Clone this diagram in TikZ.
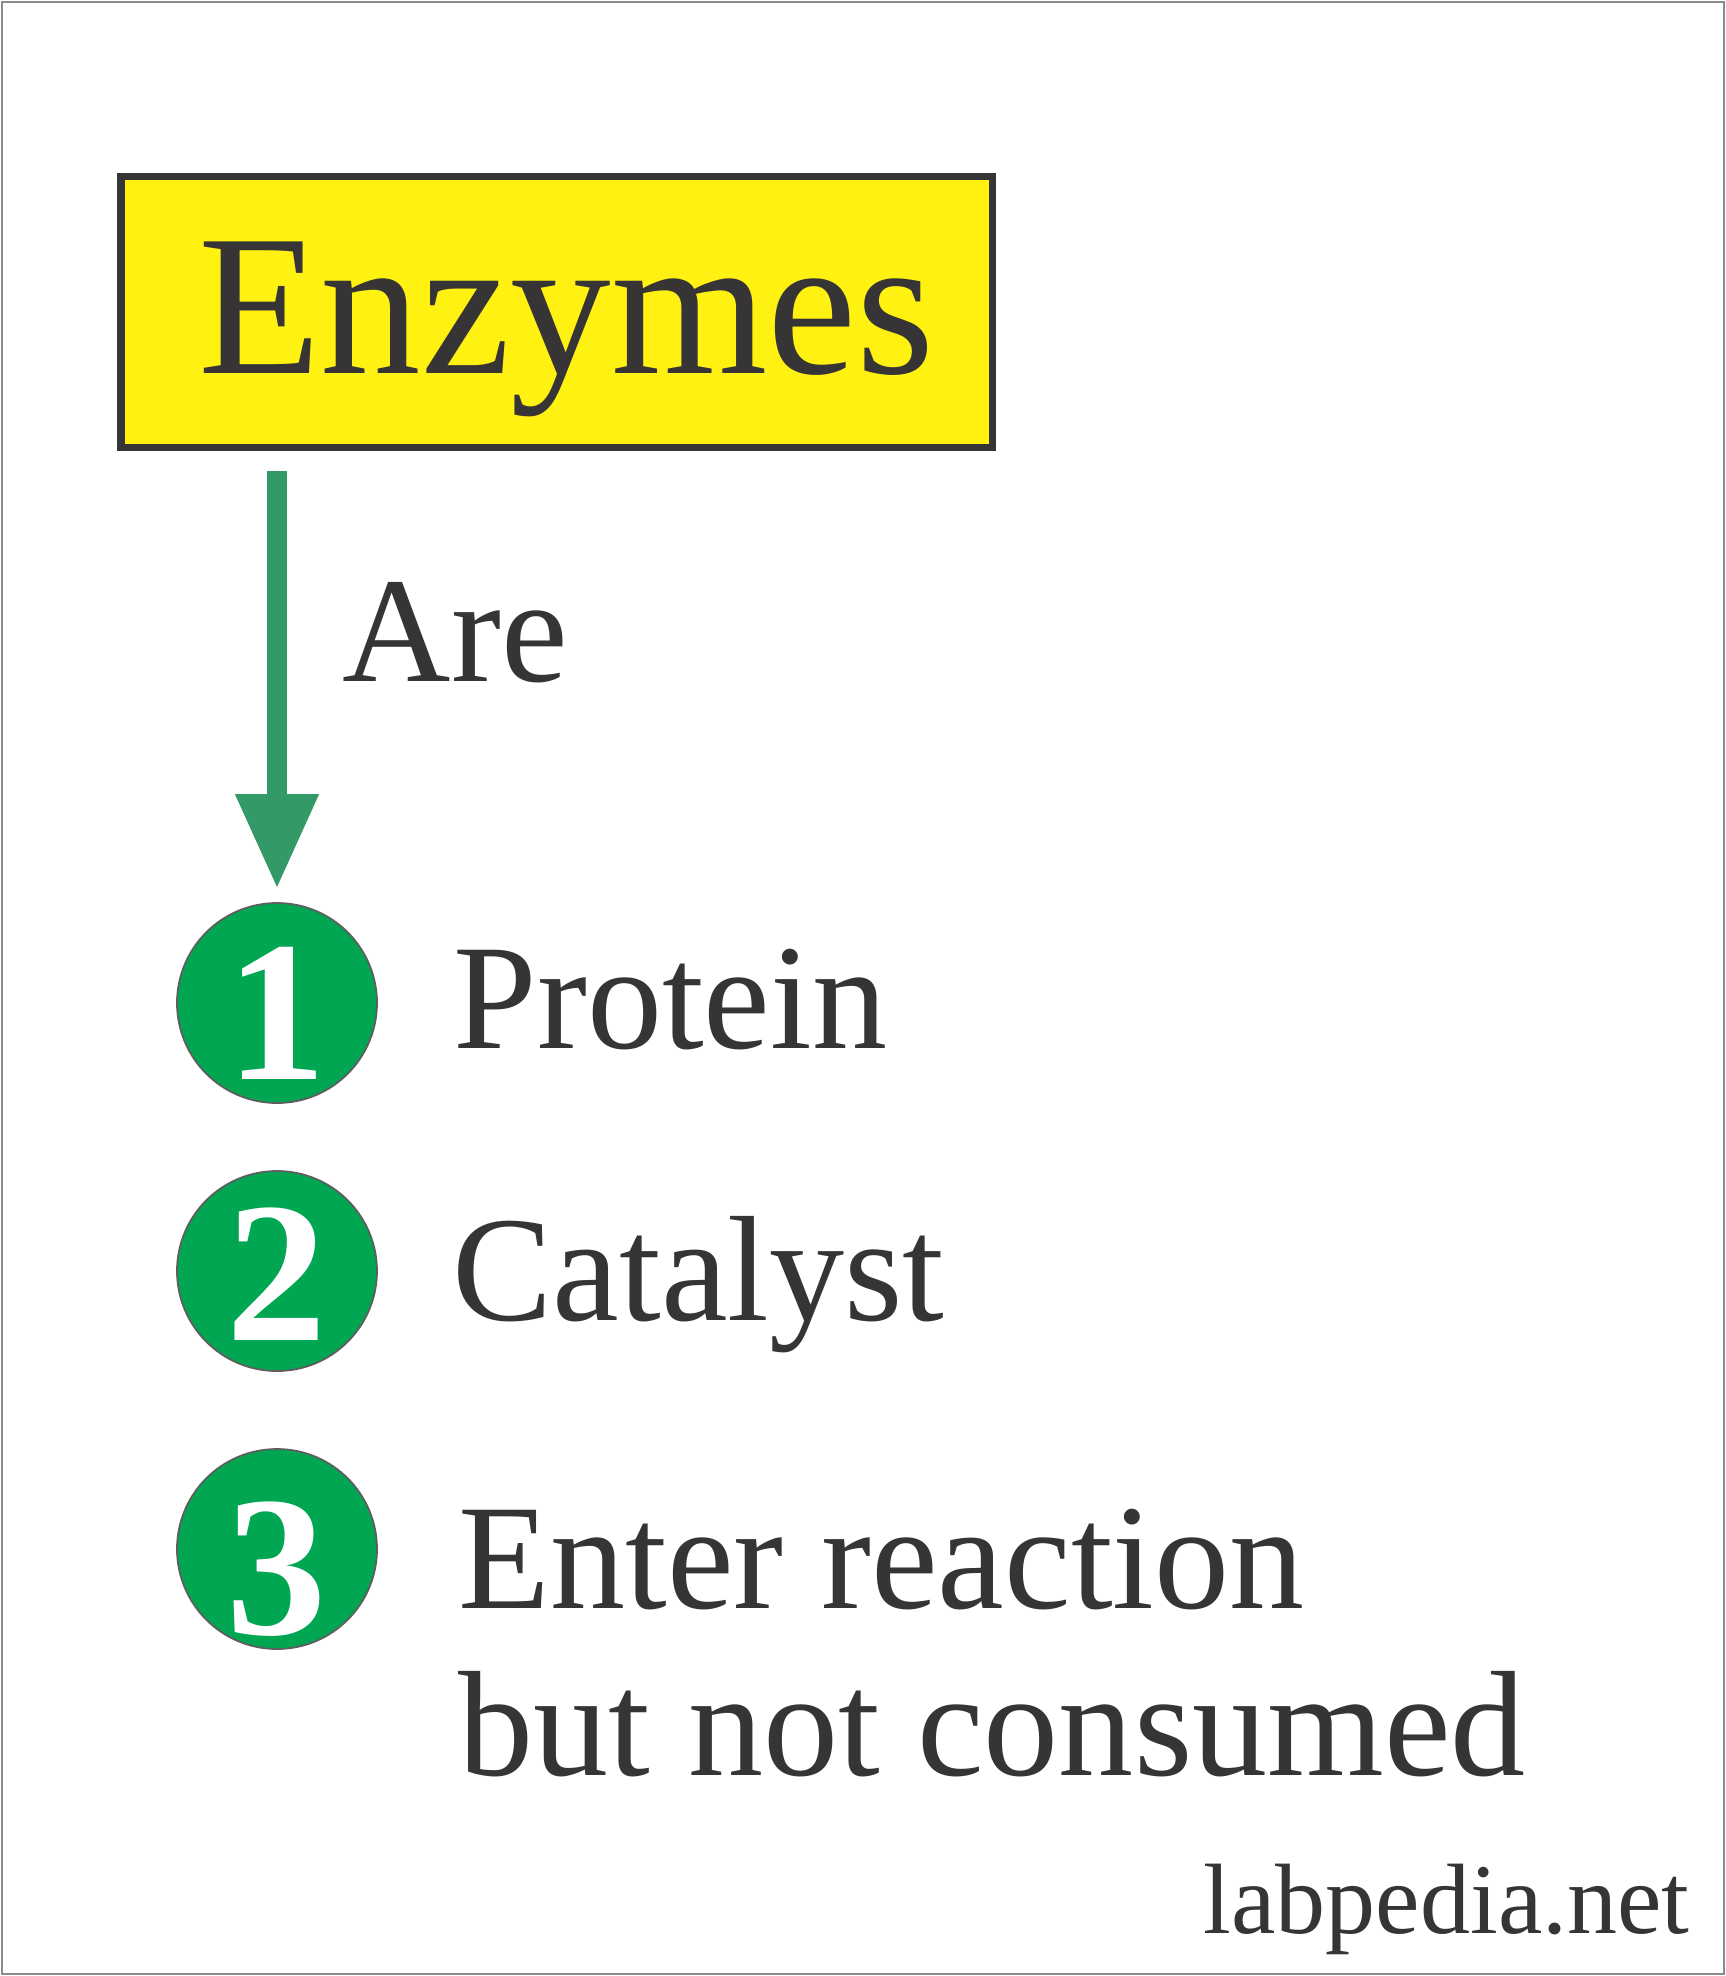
\documentclass[tikz,border=0pt]{standalone}
\usepackage{fontspec}
\setmainfont{Liberation Serif}
\usetikzlibrary{arrows.meta}
\definecolor{ink}{RGB}{55,52,53}
\definecolor{lemon}{RGB}{255,242,18}
\definecolor{arrowgreen}{RGB}{51,153,102}
\definecolor{dotgreen}{RGB}{0,166,81}
\tikzset{
    bigtext/.style={text=ink, inner sep=0pt, anchor=base west, font=\fontsize{42.7pt}{47.5pt}\selectfont},
    badge/.style={circle, draw=ink!80, line width=0.5pt, fill=dotgreen, minimum size=2cm, inner sep=0pt},
    digit/.style={inner sep=0pt, text=white, font=\fontsize{57pt}{60pt}\selectfont\bfseries},
}

\begin{document}
\begin{tikzpicture}
                \useasboundingbox (0,0) rectangle (17.26,-19.76);
                \draw[gray!90, line width=0.02cm] (0.02,-0.02) rectangle (17.24,-19.74);
                \node[draw=ink, line width=0.07cm, fill=lemon, minimum width=8.71cm, minimum height=2.71cm, inner sep=0pt] (enz) at (5.565,-3.115) {};
                \node[text=ink, inner sep=0pt, anchor=base, font=\fontsize{57.2pt}{60pt}\selectfont] (enzlabel) at ([xshift=0.1cm,yshift=0.77cm]enz.south) {Enzymes};
                \node[bigtext] (are) at (3.42,-6.81) {Are};
                \foreach \k/\y/\dy in {1/-10.03/-0.1, 2/-12.71/-0.03, 3/-15.49/-0.2} {
                    \node[badge] (n\k) at (2.77,\y) {};
                    \node[digit] (d\k) at ([yshift=\dy cm]n\k) {\k};
                }
                \draw[arrowgreen, line width=0.2cm, -{Triangle[length=0.95cm,width=0.78cm]}, shorten <=0.2cm, shorten >=0.13cm] (enz.south -| n1) -- (n1);
                \node[bigtext] (protein) at (4.53,-10.48) {Protein};
                \node[bigtext] (catalyst) at (4.52,-13.20) {Catalyst};
                \node[bigtext, align=left] (enter) at (4.58,-17.75) {Enter reaction\\but not consumed};
                \node[text=ink, inner sep=0pt, anchor=base west, font=\fontsize{28.45pt}{30pt}\selectfont] (site) at (12.03,-19.33) {labpedia.net};
            \end{tikzpicture}
\end{document}
